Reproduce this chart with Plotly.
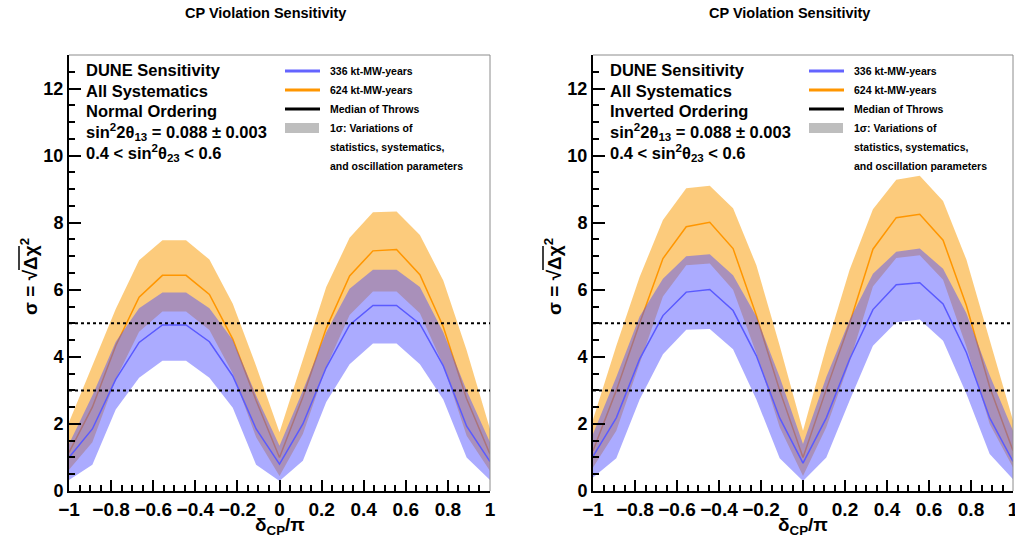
import plotly.graph_objects as go

W, H = 1015, 545

# ---------------- data ----------------
delta_cp = [-1.0, -0.889, -0.778, -0.667, -0.556, -0.444, -0.333, -0.222, -0.111, 0.0,
            0.111, 0.222, 0.333, 0.444, 0.556, 0.667, 0.778, 0.889, 1.0]

# Normal ordering (left panel)
no_336_med = [1.00, 1.85, 3.33, 4.43, 4.95, 4.95, 4.45, 3.43, 1.85, 0.80,
              2.00, 3.68, 4.95, 5.53, 5.53, 4.98, 3.73, 1.93, 0.88]
no_336_lo = [0.33, 0.78, 2.43, 3.38, 3.88, 3.88, 3.38, 2.48, 0.78, 0.30,
             0.90, 2.65, 3.78, 4.40, 4.40, 3.78, 2.73, 1.00, 0.33]
no_336_hi = [1.40, 2.85, 4.45, 5.45, 5.92, 5.92, 5.45, 4.50, 2.85, 1.35,
             3.00, 4.73, 6.03, 6.60, 6.60, 6.08, 4.73, 3.00, 1.45]
no_624_med = [1.15, 2.50, 4.33, 5.78, 6.43, 6.43, 5.86, 4.53, 2.70, 1.00,
              2.80, 4.85, 6.41, 7.16, 7.20, 6.45, 4.90, 2.75, 1.10]
no_624_lo = [0.63, 1.45, 3.33, 4.75, 5.35, 5.35, 4.80, 3.50, 1.60, 0.45,
             1.70, 3.70, 5.25, 5.95, 5.95, 5.30, 3.75, 1.65, 0.60]
no_624_hi = [2.05, 3.75, 5.43, 6.88, 7.48, 7.48, 6.90, 5.58, 3.73, 1.75,
             3.93, 6.08, 7.55, 8.31, 8.33, 7.63, 6.28, 4.20, 1.85]

# Inverted ordering (right panel)
io_336_med = [1.03, 2.18, 3.93, 5.23, 5.93, 6.01, 5.38, 4.03, 2.18, 0.83,
              2.18, 3.93, 5.41, 6.15, 6.21, 5.58, 4.13, 2.18, 0.88]
io_336_lo = [0.40, 0.98, 2.73, 4.08, 4.81, 4.83, 4.23, 2.73, 0.98, 0.30,
             1.00, 2.70, 4.33, 5.03, 5.11, 4.48, 2.90, 1.10, 0.35]
io_336_hi = [1.70, 3.40, 5.20, 6.33, 7.00, 7.06, 6.43, 5.20, 3.40, 1.40,
             3.40, 5.10, 6.48, 7.13, 7.23, 6.63, 5.30, 3.45, 1.80]
io_624_med = [1.20, 3.00, 5.00, 6.93, 7.88, 8.01, 7.23, 5.23, 3.00, 1.00,
              3.03, 5.00, 7.21, 8.15, 8.25, 7.48, 5.53, 3.10, 1.20]
io_624_lo = [0.70, 1.80, 3.80, 5.80, 6.73, 6.78, 6.00, 4.10, 1.90, 0.45,
             1.90, 3.85, 6.10, 6.95, 7.03, 6.30, 4.30, 2.00, 0.70]
io_624_hi = [2.13, 4.33, 6.38, 8.08, 9.03, 9.10, 8.43, 6.73, 4.33, 1.80,
             4.30, 6.60, 8.40, 9.28, 9.40, 8.65, 6.90, 4.50, 2.10]

sigma_levels = [3, 5]

x_tickvals = [-1, -0.8, -0.6, -0.4, -0.2, 0, 0.2, 0.4, 0.6, 0.8, 1]
x_ticktext = ["\u22121", "\u22120.8", "\u22120.6", "\u22120.4", "\u22120.2", "0",
              "0.2", "0.4", "0.6", "0.8", "1"]
y_tickvals = [0, 2, 4, 6, 8, 10, 12]
y_ticktext = ["0", "2", "4", "6", "8", "10", "12"]

panel_titles = ["CP Violation Sensitivity", "CP Violation Sensitivity"]
orderings = ["Normal Ordering", "Inverted Ordering"]
legend_labels = ["336 kt-MW-years", "624 kt-MW-years", "Median of Throws",
                 "1\u03c3: Variations of", "statistics, systematics,",
                 "and oscillation parameters"]

# ---------------- styles ----------------
FONT = "Liberation Sans, Arial, Helvetica, sans-serif"
BLUE_LINE = "rgb(90,90,255)"
ORANGE_LINE = "rgb(255,150,0)"
BLUE_FILL = "rgba(80,80,255,0.48)"
ORANGE_FILL = "rgba(250,165,30,0.58)"


def px(xp):
    return xp / W


def py(yp):
    return 1 - yp / H


panels = [
    dict(xd=(69, 490), data=(no_336_med, no_336_lo, no_336_hi, no_624_med, no_624_lo, no_624_hi),
         title_x=265, text_x=84, leg_x=285, ax=""),
    dict(xd=(593, 1013), data=(io_336_med, io_336_lo, io_336_hi, io_624_med, io_624_lo, io_624_hi),
         title_x=789, text_x=608, leg_x=809, ax="2"),
]
y_top, y_bot = 55, 491

fig = go.Figure()
annotations = []
shapes = []

for k, p in enumerate(panels):
    b_med, b_lo, b_hi, o_med, o_lo, o_hi = p["data"]
    xa = "x" + p["ax"]
    ya = "y" + p["ax"]
    # orange band
    fig.add_trace(go.Scatter(x=delta_cp + delta_cp[::-1], y=o_hi + o_lo[::-1], fill="toself",
                             fillcolor=ORANGE_FILL, line=dict(width=0), mode="lines",
                             hoverinfo="skip", showlegend=False, xaxis=xa, yaxis=ya))
    fig.add_trace(go.Scatter(x=delta_cp, y=o_med, mode="lines", line=dict(color=ORANGE_LINE, width=1.5),
                             showlegend=False, xaxis=xa, yaxis=ya))
    # blue band
    fig.add_trace(go.Scatter(x=delta_cp + delta_cp[::-1], y=b_hi + b_lo[::-1], fill="toself",
                             fillcolor=BLUE_FILL, line=dict(width=0), mode="lines",
                             hoverinfo="skip", showlegend=False, xaxis=xa, yaxis=ya))
    fig.add_trace(go.Scatter(x=delta_cp, y=b_med, mode="lines", line=dict(color=BLUE_LINE, width=1.5),
                             showlegend=False, xaxis=xa, yaxis=ya))

    axis_common = dict(showgrid=False, zeroline=False, showline=True, linewidth=2, linecolor="black",
                       ticks="inside", tickcolor="black", tickwidth=2, automargin=False,
                       ticklabeloverflow="allow")
    xd = [px(p["xd"][0]), px(p["xd"][1])]
    yd = [py(y_bot), py(y_top)]
    fig.update_layout(**{
        "xaxis" + p["ax"]: dict(domain=xd, range=[-1, 1], anchor=ya, tickvals=x_tickvals,
                                ticktext=["<b>%s</b>" % t for t in x_ticktext], ticklen=11,
                                tickfont=dict(family=FONT, size=19, color="black"),
                                minor=dict(ticks="inside", ticklen=6, tickwidth=2, tickcolor="black",
                                           dtick=0.05, tick0=-1, showgrid=False),
                                **axis_common),
        "yaxis" + p["ax"]: dict(domain=yd, range=[0, 13], anchor=xa, tickvals=y_tickvals,
                                ticktext=["<b>%s</b>" % t for t in y_ticktext], ticklen=12,
                                tickfont=dict(family=FONT, size=18, color="black"),
                                minor=dict(ticks="inside", ticklen=6, tickwidth=2, tickcolor="black",
                                           dtick=0.5, tick0=0, showgrid=False),
                                **axis_common),
    })

    # thin grey frame top/right
    shapes.append(dict(type="line", xref="paper", yref="paper", x0=xd[0], x1=xd[1], y0=yd[1], y1=yd[1],
                       line=dict(color="rgb(140,140,140)", width=1)))
    shapes.append(dict(type="line", xref="paper", yref="paper", x0=xd[1], x1=xd[1], y0=yd[0], y1=yd[1],
                       line=dict(color="rgb(140,140,140)", width=1)))
    # sigma lines
    for s in sigma_levels:
        shapes.append(dict(type="line", xref=xa + " domain", yref=ya, x0=0, x1=1, y0=s, y1=s,
                           line=dict(color="black", width=2, dash="dot")))

    # title
    annotations.append(dict(text="<b>%s</b>" % panel_titles[k], x=px(p["title_x"]), y=py(13),
                            xref="paper", yref="paper", xanchor="center", yanchor="middle",
                            showarrow=False, font=dict(family=FONT, size=14.5, color="black")))
    # info text
    info = ["DUNE Sensitivity", "All Systematics", orderings[k],
            "sin<sup>2</sup>2\u03b8<sub>13</sub> = 0.088 \u00b1 0.003",
            "0.4 &lt; sin<sup>2</sup>\u03b8<sub>23</sub> &lt; 0.6"]
    info_y = [70, 91, 111, 132, 153]
    for t, yy in zip(info, info_y):
        annotations.append(dict(text="<b>%s</b>" % t, x=px(p["text_x"]), y=py(yy), xref="paper",
                                yref="paper", xanchor="left", yanchor="middle", showarrow=False,
                                font=dict(family=FONT, size=16.5, color="black")))
    # legend
    lx0 = p["leg_x"]
    leg_y = [71, 90, 109, 128, 147, 166]
    for col, yy in zip(["rgb(100,100,255)", "rgb(255,150,0)", "black"], leg_y[:3]):
        shapes.append(dict(type="line", xref="paper", yref="paper", x0=px(lx0), x1=px(lx0 + 35),
                           y0=py(yy), y1=py(yy), line=dict(color=col, width=3)))
    shapes.append(dict(type="rect", xref="paper", yref="paper", x0=px(lx0), x1=px(lx0 + 34),
                       y0=py(133), y1=py(123), fillcolor="rgb(190,190,190)", line=dict(width=0)))
    for t, yy in zip(legend_labels, leg_y):
        annotations.append(dict(text="<b>%s</b>" % t, x=px(lx0 + 43), y=py(yy), xref="paper",
                                yref="paper", xanchor="left", yanchor="middle", showarrow=False,
                                font=dict(family=FONT, size=10.5, color="black")))
    # axis titles
    cx = (p["xd"][0] + p["xd"][1]) / 2
    annotations.append(dict(text="<b>\u03b4<sub>CP</sub>/\u03c0</b>", x=px(cx), y=py(526), xref="paper",
                            yref="paper", xanchor="center", yanchor="middle", showarrow=False,
                            font=dict(family=FONT, size=19, color="black")))
    annotations.append(dict(text="<b>\u03c3 = \u221a\u0394\u03c7<sup>2</sup></b>", x=px(p["xd"][0] - 40),
                            y=py(277), xref="paper", yref="paper", xanchor="center", yanchor="middle",
                            textangle=-90, showarrow=False,
                            font=dict(family=FONT, size=19, color="black")))
    # overline of the square root in the axis title
    shapes.append(dict(type="line", xref="paper", yref="paper", x0=px(p["xd"][0] - 50),
                       x1=px(p["xd"][0] - 50), y0=py(270), y1=py(246),
                       line=dict(color="black", width=1.5)))

fig.update_layout(width=W, height=H, autosize=False, margin=dict(l=0, r=0, t=0, b=0),
                  paper_bgcolor="white", plot_bgcolor="white", showlegend=False,
                  annotations=annotations, shapes=shapes)

fig.write_html("out.html", config={"displayModeBar": False},
               post_script="document.body.style.margin='0px';")
